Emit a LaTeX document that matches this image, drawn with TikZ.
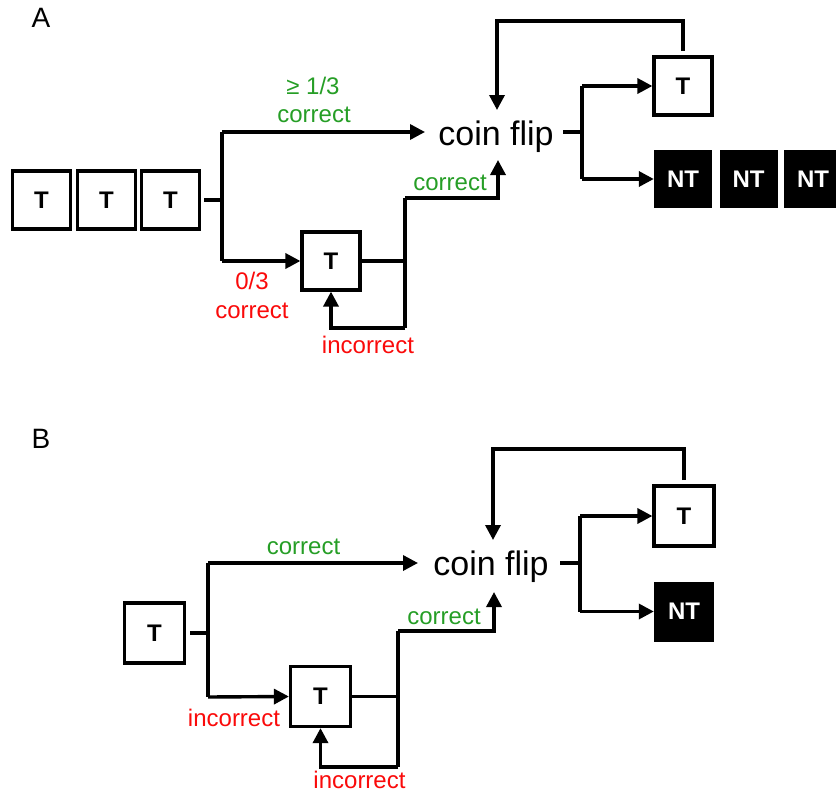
\documentclass[tikz,border=0pt]{standalone}
\usepackage{fontspec}
\setmainfont{Liberation Sans}
\usetikzlibrary{arrows.meta}
\definecolor{cgreen}{RGB}{38,158,38}
\definecolor{cred}{RGB}{250,10,10}
\begin{document}
\begin{tikzpicture}[x=1pt,y=-1pt,
  conn/.style={line width=3.4pt},
  arr/.style={conn,-{Triangle[length=15pt,width=15pt]}},
  tbox/.style={draw,line width=3.2pt,minimum size=#1,inner sep=0pt,font=\fontsize{24}{26}\selectfont\bfseries},
  tbox/.default=58pt,
  ntbox/.style={fill=black,text=white,minimum size=#1,inner sep=0pt,font=\fontsize{24}{26}\selectfont\bfseries},
  ntbox/.default=58pt,
  coin/.style={inner sep=0pt,anchor=base,font=\fontsize{34}{38}\selectfont},
  lab/.style={inner sep=0pt,font=\fontsize{24}{26}\selectfont},
  glab/.style={lab,text=cgreen},
  rlab/.style={lab,text=cred},
  panel/.style={inner sep=0pt,font=\fontsize{28}{30}\selectfont}]
\useasboundingbox (0,0) rectangle (836,795);
\clip (0,0) rectangle (836,795);

% ---------------- Panel A ----------------
\node[panel] (labA) at (41,18) {A};
\node[tbox] (tA1) at (41.5,200) {T};
\node[tbox] (tA2) at (106.5,200) {T};
\node[tbox] (tA3) at (170.5,200) {T};
\node[tbox] (tA4) at (331,261) {T};
\node[coin] (coinA) at (496,145) {coin flip};
\node[tbox] (tA5) at (683,86) {T};
\node[ntbox] (nA1) at (683,179) {NT};
\node[ntbox] (nA2) at (748.5,179) {NT};
\node[ntbox] (nA3) at (813,179) {NT};

\coordinate (sA) at (204,200);
\coordinate (jA) at (222,200);
\coordinate (jAt) at (222,132);
\coordinate (jAb) at (222,261);
\coordinate (cAin) at (425,132);
\coordinate (cAtop) at (497,110);
\coordinate (cAbot) at (498,160);
\coordinate (cAout) at (563,132);
\coordinate (oA) at (582,132);
\coordinate (oAt) at (582,86);
\coordinate (oAb) at (582,179);
\coordinate (kA) at (405,261);
\coordinate (kAt) at (405,198);
\coordinate (kAb) at (405,328);
\coordinate (fA) at (683,51);
\coordinate (fAt) at (683,21);

\draw[conn] (sA) -- (jA);
\draw[conn] (jAt) -- (jAb);
\draw[arr] (jAt) -- (cAin);
\draw[arr] (jAb) -- (tA4.west);
\draw[conn] (tA4.east) -- (kA);
\draw[conn] (kAt) -- (kAb);
\draw[arr] (kAb) -| (tA4.south);
\draw[arr] (kAt) -| (cAbot);
\draw[conn] (cAout) -- (oA);
\draw[conn] (oAt) -- (oAb);
\draw[arr] (oAt) -- (tA5.west);
\draw[arr] (oAb) -- (nA1.west);
\draw[arr] (fA) -- (fAt) -| (cAtop);

\node[glab] (gA1) at (313,86) {≥ 1/3};
\node[glab] (gA2) at (314,115) {correct};
\node[rlab] (rA1) at (252,281) {0/3};
\node[rlab] (rA2) at (252,311) {correct};
\node[rlab] (rA3) at (368,345) {incorrect};
\node[glab] (gA3) at (450,183) {correct};

% ---------------- Panel B ----------------
\node[panel] (labB) at (41,439) {B};
\node[tbox=60pt] (tB1) at (154.5,633) {T};
\node[tbox=60pt] (tB2) at (320.5,696.5) {T};
\node[coin] (coinB) at (491,575) {coin flip};
\node[tbox=60pt] (tB3) at (684,516) {T};
\node[ntbox=60pt] (nB1) at (684,611.5) {NT};

\coordinate (sB) at (190,633);
\coordinate (jB) at (208,633);
\coordinate (jBt) at (208,563);
\coordinate (jBb) at (208,697);
\coordinate (cBin) at (418,563);
\coordinate (cBtop) at (493,540);
\coordinate (cBbot) at (494,592);
\coordinate (cBout) at (560,563);
\coordinate (oB) at (580,563);
\coordinate (oBt) at (580,516);
\coordinate (oBb) at (580,611.5);
\coordinate (kB) at (398,696.5);
\coordinate (kBt) at (398,631);
\coordinate (kBb) at (398,767);
\coordinate (fB) at (684,480);
\coordinate (fBt) at (684,449);

\draw[conn] (sB) -- (jB);
\draw[conn] (jBt) -- (jBb);
\draw[arr] (jBt) -- (cBin);
\draw[arr] (jBb) -- (tB2.west);
\draw[conn] (tB2.east) -- (kB);
\draw[conn] (kBt) -- (kBb);
\draw[arr] (kBb) -| (tB2.south);
\draw[arr] (kBt) -| (cBbot);
\draw[conn] (cBout) -- (oB);
\draw[conn] (oBt) -- (oBb);
\draw[arr] (oBt) -- (tB3.west);
\draw[arr] (oBb) -- (nB1.west);
\draw[arr] (fB) -- (fBt) -| (cBtop);

\node[glab] (gB1) at (303.5,547) {correct};
\node[rlab] (rB1) at (234,718) {incorrect};
\node[rlab] (rB2) at (359.5,780) {incorrect};
\node[glab] (gB2) at (444,617) {correct};
\end{tikzpicture}
\end{document}
